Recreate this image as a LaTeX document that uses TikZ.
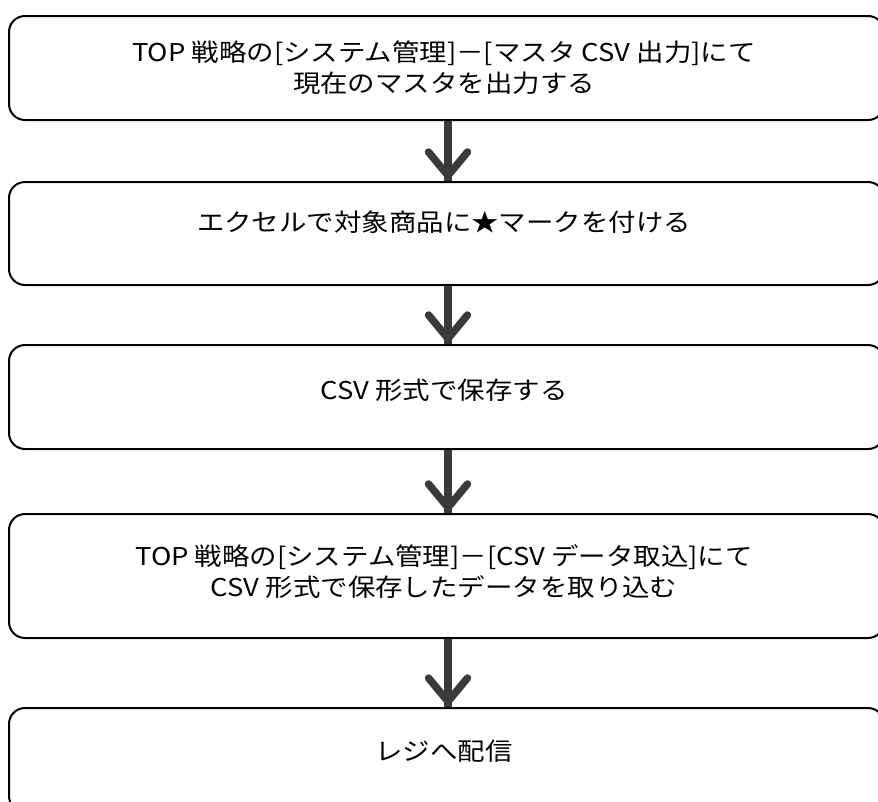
\documentclass[tikz,border=0pt]{standalone}
\usepackage{fontspec}
\setmainfont[FakeStretch=1.12]{Noto Sans CJK JP}
\usetikzlibrary{calc}
\definecolor{arrowgray}{HTML}{3A3A3A}
\begin{document}
\begin{tikzpicture}[x=1pt,y=-1pt,
  box/.style={draw=black, line width=2pt, rounded corners=16pt, minimum width=875pt, inner sep=0pt, anchor=north},
  txt/.style={font=\fontsize{24.5}{31}\selectfont, align=center, text=black, inner sep=0pt},
  shaft/.style={draw=arrowgray, line width=7.5pt},
  head/.style={draw=arrowgray, line width=7.5pt, line cap=round, line join=miter}]
\useasboundingbox (0,0) rectangle (878,801);
\clip (0,0) rectangle (878,801);
\node[box, minimum height=104pt] (b1) at (446.5,15) {};
\node[box, minimum height=103pt] (b2) at (446.5,181) {};
\node[box, minimum height=104pt] (b3) at (446.5,344) {};
\node[box, minimum height=124pt] (b4) at (446.5,513) {};
\node[box, minimum height=104pt] (b5) at (446.5,707) {};
\node[txt] (t1) at (444,68) {TOP 戦略の[システム管理]－[マスタ CSV 出力]にて\\現在のマスタを出力する};
\node[txt] (t2) at (444,222) {エクセルで対象商品に★マークを付ける};
\node[txt] (t3) at (444,390) {CSV 形式で保存する};
\node[txt] (t4) at (444,572) {TOP 戦略の[システム管理]－[CSV データ取込]にて\\CSV 形式で保存したデータを取り込む};
\node[txt] (t5) at (444,751) {レジへ配信};
\coordinate (ax) at (448,0);
\foreach \a/\b in {b1/b2,b2/b3,b3/b4,b4/b5}{
  \draw[shaft] (\a.south -| ax) -- (\b.north -| ax);
  \draw[head] ($(\b.north -| ax)+(-19.5,-29)$) -- ($(\b.north -| ax)+(0,-5.5)$) -- ($(\b.north -| ax)+(19.5,-29)$);
}
\end{tikzpicture}
\end{document}
